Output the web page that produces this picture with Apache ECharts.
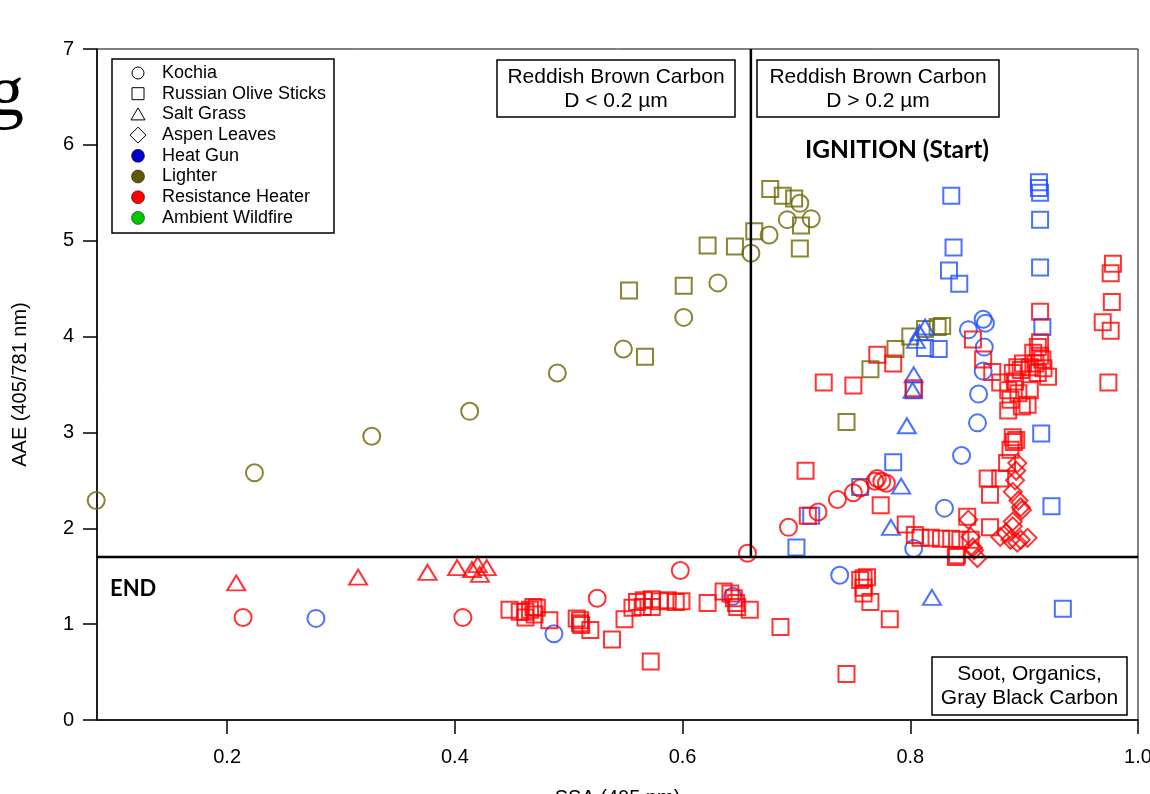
<!DOCTYPE html>
<html>
<head>
<meta charset="utf-8">
<script src="https://cdn.jsdelivr.net/npm/echarts@6/dist/echarts.min.js"></script>
<style>
  html, body { margin: 0; padding: 0; background: #fff; }
  #chart { width: 1150px; height: 794px; }
</style>
</head>
<body>
<div id="chart"></div>
<script>
// values, [SSA, AAE]
var lighterKochia = [[0.085,2.29],[0.224,2.58],[0.327,2.96],[0.413,3.22],[0.490,3.62],[0.548,3.87],[0.601,4.20],
  [0.631,4.56],[0.660,4.87],[0.676,5.06],[0.692,5.22],[0.703,5.39],[0.713,5.23]];
var lighterOlive = [[0.553,4.48],[0.601,4.53],[0.567,3.79],[0.622,4.95],[0.646,4.94],[0.663,5.10],[0.677,5.54],
  [0.688,5.47],[0.698,5.44],[0.704,5.16],[0.703,4.92],[0.744,3.11],[0.765,3.66],[0.787,3.87],[0.800,4.00],
  [0.813,4.08],[0.824,4.10],[0.828,4.11]];
var heatGunKochia = [[0.278,1.06],[0.487,0.90],[0.644,1.29],[0.738,1.51],[0.803,1.79],[0.830,2.21],[0.845,2.76],
  [0.859,3.10],[0.860,3.40],[0.864,3.64],[0.865,3.89],[0.851,4.07],[0.864,4.18],[0.866,4.14]];
var heatGunOlive = [[0.836,5.47],[0.913,5.61],[0.913,5.55],[0.914,5.50],[0.914,5.22],[0.838,4.93],[0.914,4.72],
  [0.834,4.69],[0.843,4.55],[0.916,4.10],[0.813,3.88],[0.825,3.87],[0.803,3.44],[0.915,2.99],[0.785,2.69],
  [0.924,2.23],[0.756,2.43],[0.713,2.13],[0.700,1.80],[0.934,1.16]];
var heatGunSaltGrass = [[0.813,4.10],[0.808,4.04],[0.805,3.96],[0.803,3.60],[0.802,3.44],[0.797,3.07],
  [0.792,2.44],[0.783,2.01],[0.819,1.28]];
var heaterKochia = [[0.214,1.07],[0.407,1.07],[0.525,1.27],[0.598,1.56],[0.657,1.74],[0.693,2.01],[0.719,2.17],
  [0.736,2.30],[0.750,2.37],[0.756,2.42],[0.769,2.49],[0.775,2.49],[0.779,2.47],[0.771,2.52]];
var heaterSaltGrass = [[0.208,1.43],[0.315,1.49],[0.376,1.54],[0.402,1.59],[0.415,1.57],[0.420,1.62],
  [0.422,1.52],[0.428,1.59]];
var heaterOlive = [
  [0.724,3.52],[0.750,3.49],[0.771,3.81],[0.785,3.72],[0.803,3.46],[0.855,3.97],[0.864,3.76],[0.872,3.63],
  [0.879,3.52],[0.886,3.44],[0.888,3.34],[0.886,3.23],[0.895,3.41],[0.903,3.29],[0.905,3.44],[0.892,3.53],
  [0.897,3.65],[0.899,3.72],[0.905,3.68],[0.908,3.83],[0.912,3.89],[0.914,3.94],[0.916,3.76],[0.917,3.67],
  [0.921,3.58],[0.914,4.26],[0.912,3.62],[0.894,3.68],[0.890,3.62],[0.898,3.27],[0.914,3.80],[0.910,3.72],
  [0.978,4.76],[0.976,4.66],[0.977,4.36],[0.969,4.15],[0.976,4.06],[0.974,3.52],
  [0.708,2.60],[0.710,2.13],[0.774,2.24],[0.796,2.04],[0.804,1.93],[0.809,1.90],[0.818,1.90],[0.827,1.89],
  [0.836,1.89],[0.844,1.88],[0.853,1.88],[0.841,1.72],[0.850,2.12],[0.868,2.52],[0.879,2.52],[0.870,2.35],
  [0.870,2.01],[0.890,2.95],[0.891,2.90],[0.888,2.82],[0.885,2.68],[0.893,2.92],
  [0.448,1.15],[0.457,1.13],[0.462,1.13],[0.466,1.15],[0.469,1.18],[0.472,1.17],[0.470,1.10],[0.462,1.07],
  [0.483,1.04],[0.507,1.06],[0.510,1.04],[0.510,1.01],[0.511,0.99],[0.519,0.94],[0.538,0.84],[0.549,1.05],
  [0.556,1.17],[0.560,1.23],[0.565,1.18],[0.573,1.18],[0.566,1.25],[0.573,1.26],[0.580,1.24],[0.587,1.25],
  [0.594,1.23],[0.599,1.24],[0.572,0.61],[0.622,1.22],[0.636,1.34],[0.642,1.32],[0.645,1.27],[0.647,1.22],
  [0.648,1.18],[0.659,1.15],[0.686,0.97],[0.759,1.48],[0.756,1.46],[0.762,1.49],[0.759,1.38],[0.759,1.32],
  [0.765,1.23],[0.782,1.05],[0.744,0.48],[0.840,1.70]];
var heaterAspen = [[0.851,2.09],[0.853,1.91],[0.855,1.80],[0.856,1.77],[0.859,1.69],[0.894,2.68],[0.892,2.50],
  [0.890,2.38],[0.895,2.29],[0.897,2.22],[0.898,2.19],[0.890,2.07],[0.879,1.91],[0.888,1.88],[0.897,1.88],
  [0.903,1.90],[0.894,1.85],[0.890,2.02],[0.893,2.60],[0.884,1.95]];

var xMin = 0.0857, xMax = 1.0;
var xTicks = [0.2, 0.4, 0.6, 0.8, 1.0];
var dividerX = 0.66, dividerY = 1.7;
var legendNames = ['Kochia', 'Russian Olive Sticks', 'Salt Grass', 'Aspen Leaves',
  'Heat Gun', 'Lighter', 'Resistance Heater', 'Ambient Wildfire'];

var RED = '#ff0000', BLUE = '#1f4fff', OLIVE = '#6b6700';
var FONT = '"Liberation Sans", Arial, sans-serif';
var BOLD = 'bold {s}px Lato, "Open Sans", sans-serif';

function scatter(data, color, symbol, size) {
  return {
    type: 'scatter',
    data: data,
    symbol: symbol,
    symbolSize: size,
    clip: false,
    itemStyle: { color: 'rgba(0,0,0,0)', borderColor: color, borderWidth: 2 },
    emphasis: { disabled: true }
  };
}
function divider(data) {
  return {
    type: 'line', data: data, symbol: 'none', silent: true,
    lineStyle: { color: '#000', width: 2.5 }
  };
}

// legend drawn by hand: shapes are black outlines, colours are filled dots
var legendGraphics = [{
  type: 'rect', shape: { x: 112, y: 59, width: 222, height: 174 },
  style: { fill: '#fff', stroke: '#000', lineWidth: 1.5 }
}];
var legendColors = ['#0000c8', '#5e5a00', '#ff0000', '#00c800'];
legendNames.forEach(function (name, i) {
  var cy = 73 + i * 20.7, cx = 138;
  var st = { fill: 'none', stroke: '#000', lineWidth: 1 };
  var g;
  if (i === 0) g = { type: 'circle', shape: { cx: cx, cy: cy, r: 6 }, style: st };
  else if (i === 1) g = { type: 'rect', shape: { x: cx - 6, y: cy - 6, width: 12, height: 12 }, style: st };
  else if (i === 2) g = { type: 'polygon', shape: { points: [[cx, cy - 6.5], [cx + 7, cy + 5.5], [cx - 7, cy + 5.5]] }, style: st };
  else if (i === 3) g = { type: 'polygon', shape: { points: [[cx, cy - 8], [cx + 8, cy], [cx, cy + 8], [cx - 8, cy]] }, style: st };
  else g = { type: 'circle', shape: { cx: cx, cy: cy, r: 6.5 }, style: { fill: legendColors[i - 4], stroke: '#000', lineWidth: 0.5 } };
  legendGraphics.push(g);
  legendGraphics.push({
    type: 'text', x: 162, y: cy,
    style: { text: name, font: '18px ' + FONT, fill: '#000', verticalAlign: 'middle' }
  });
});

function labelBox(x, y, w, h, lines) {
  return [
    { type: 'rect', shape: { x: x, y: y, width: w, height: h }, style: { fill: '#fff', stroke: '#000', lineWidth: 1.5 } },
    { type: 'text', x: x + w / 2, y: y + h / 2 + 0.5,
      style: { text: lines.join('\n'), font: '21px ' + FONT, lineHeight: 24, fill: '#000',
        align: 'center', verticalAlign: 'middle' } }
  ];
}

var chart = echarts.init(document.getElementById('chart'));
chart.setOption({
  animation: false,
  backgroundColor: '#fff',
  grid: { left: 97, right: 12, top: 49, bottom: 74, outerBoundsMode: 'none', containLabel: false,
    show: true, borderColor: '#000', borderWidth: 1 },
  xAxis: {
    type: 'value', min: xMin, max: xMax,
    name: 'SSA (405 nm)', nameLocation: 'middle', nameGap: 68,
    nameTextStyle: { fontSize: 20, fontFamily: FONT, color: '#000' },
    axisLine: { lineStyle: { color: '#000', width: 1.5 } },
    axisTick: { customValues: xTicks, length: 14, lineStyle: { color: '#000', width: 1.5 } },
    axisLabel: { customValues: xTicks, margin: 27, fontSize: 20, fontFamily: FONT, color: '#000',
      formatter: function (v) { return v.toFixed(1); } },
    splitLine: { show: false }
  },
  yAxis: {
    type: 'value', min: 0, max: 7, interval: 1,
    name: 'AAE (405/781 nm)', nameLocation: 'middle', nameGap: 67,
    nameTextStyle: { fontSize: 20, fontFamily: FONT, color: '#000' },
    axisLine: { show: true, lineStyle: { color: '#000', width: 1.5 } },
    axisTick: { show: true, length: 14, lineStyle: { color: '#000', width: 1.5 } },
    axisLabel: { margin: 23, fontSize: 20, fontFamily: FONT, color: '#000' },
    splitLine: { show: false }
  },
  series: [
    divider([[dividerX, dividerY], [dividerX, 7]]),
    divider([[xMin, dividerY], [xMax, dividerY]]),
    scatter(lighterKochia, OLIVE, 'circle', 17),
    scatter(lighterOlive, OLIVE, 'rect', 16),
    scatter(heatGunKochia, BLUE, 'circle', 17),
    scatter(heatGunOlive, BLUE, 'rect', 16),
    scatter(heatGunSaltGrass, BLUE, 'triangle', [18, 15]),
    scatter(heaterKochia, RED, 'circle', 17),
    scatter(heaterSaltGrass, RED, 'triangle', [18, 15]),
    scatter(heaterOlive, RED, 'rect', 16),
    scatter(heaterAspen, RED, 'diamond', 18)
  ],
  graphic: legendGraphics
    .concat(labelBox(497, 60, 238, 57, ['Reddish Brown Carbon', 'D < 0.2 \u00b5m']))
    .concat(labelBox(757, 60, 242, 57, ['Reddish Brown Carbon', 'D > 0.2 \u00b5m']))
    .concat(labelBox(932, 657, 195, 58, ['Soot, Organics,', 'Gray Black Carbon']))
    .concat([
      { type: 'text', x: 897, y: 150, style: { text: 'IGNITION (Start)', font: BOLD.replace('{s}', 24.5),
        fill: '#000', align: 'center', verticalAlign: 'middle' } },
      { type: 'text', x: 110, y: 589, style: { text: 'END', font: BOLD.replace('{s}', 22),
        fill: '#000', verticalAlign: 'middle' } },
      { type: 'text', x: -12, y: 60, style: { text: 'g', font: '72px "Liberation Serif", serif',
        fill: '#000', verticalAlign: 'top' } }
    ])
});
</script>
</body>
</html>
